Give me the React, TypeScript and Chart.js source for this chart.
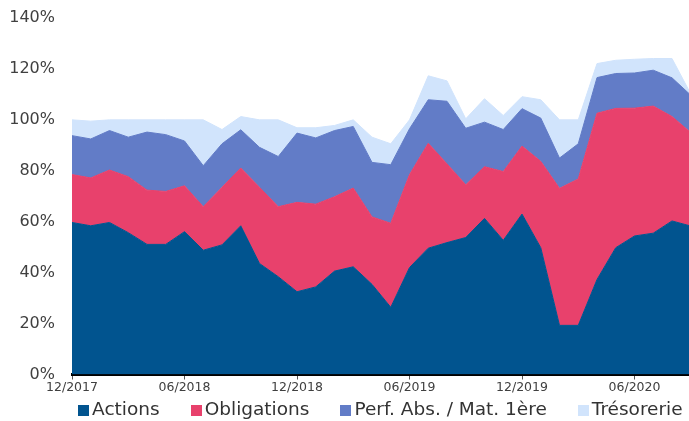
import React, { useEffect, useRef } from 'react';
import { Chart, registerables } from 'chart.js';

Chart.register(...registerables);

const months = [
  '12/2017', '01/2018', '02/2018', '03/2018', '04/2018', '05/2018', '06/2018', '07/2018', '08/2018',
  '09/2018', '10/2018', '11/2018', '12/2018', '01/2019', '02/2019', '03/2019', '04/2019', '05/2019',
  '06/2019', '07/2019', '08/2019', '09/2019', '10/2019', '11/2019', '12/2019', '01/2020', '02/2020',
  '03/2020', '04/2020', '05/2020', '06/2020', '07/2020', '08/2020', '09/2020',
];

const actions = [59.7, 58.4, 59.7, 55.7, 51.1, 51.1, 56.1, 48.8, 50.9, 58.4, 43.6, 38.4, 32.5, 34.4, 40.6, 42.3, 35.4, 26.4, 42.0, 49.6, 51.8, 53.8, 61.3, 52.7, 63.0, 49.8, 19.3, 19.3, 37.3, 49.8, 54.4, 55.5, 60.3, 58.3];
const obligations = [18.8, 18.8, 20.6, 22.0, 21.3, 20.8, 18.0, 17.1, 22.6, 22.7, 29.9, 27.5, 35.1, 32.5, 29.2, 30.9, 26.5, 33.0, 36.5, 41.2, 30.9, 20.7, 20.3, 27.0, 26.7, 33.9, 53.8, 57.5, 65.3, 54.7, 50.2, 49.9, 41.0, 36.7];
const perfAbs = [15.3, 15.3, 15.5, 15.5, 22.8, 22.3, 17.6, 16.1, 17.1, 15.0, 15.7, 19.7, 27.2, 26.0, 26.0, 24.2, 21.4, 23.0, 18.0, 17.1, 24.6, 22.2, 17.5, 16.5, 14.7, 17.0, 11.9, 13.8, 14.0, 13.7, 13.8, 14.1, 15.2, 14.7];
const tresorerie = [6.2, 7.0, 4.2, 6.8, 4.8, 5.8, 8.3, 18.0, 5.6, 5.2, 10.8, 14.4, 2.1, 4.0, 2.0, 2.6, 9.9, 8.2, 3.5, 9.4, 8.0, 3.7, 9.2, 5.5, 4.7, 7.2, 15.0, 9.4, 5.5, 5.2, 5.4, 4.6, 7.6, 0.5];

const seriesNames = ['Actions', 'Obligations', 'Perf. Abs. / Mat. 1ère', 'Trésorerie'];
const seriesColors = ['#01548F', '#E8416C', '#627CC7', '#D1E4FC'];
const seriesData = [actions, obligations, perfAbs, tresorerie];

const FONT = '"DejaVu Sans", sans-serif';

const bottomLegend = {
  id: 'bottomLegend',
  afterDraw(chart: any) {
    const { ctx, chartArea } = chart;
    const fontSize = 18.5;
    const box = 11;
    const boxGap = 3;
    const itemGap = 31;
    ctx.save();
    ctx.font = `${fontSize}px ${FONT}`;
    ctx.textBaseline = 'middle';
    ctx.textAlign = 'left';
    const items = chart.data.datasets.map((ds: any) => ({ text: String(ds.label), color: ds.backgroundColor }));
    const widths = items.map((it: any) => ctx.measureText(it.text).width);
    const total = widths.reduce((s: number, w: number) => s + box + boxGap + w, 0) + itemGap * (items.length - 1);
    const center = (chartArea.left - 2 + chartArea.right) / 2;
    let x = center - total / 2;
    const y = chartArea.bottom + 35.5;
    items.forEach((it: any, i: number) => {
      ctx.fillStyle = it.color;
      ctx.fillRect(Math.round(x), Math.round(y - box / 2), box, box);
      ctx.fillStyle = '#333333';
      ctx.fillText(it.text, x + box + boxGap, y);
      x += box + boxGap + widths[i] + itemGap;
    });
    ctx.restore();
  },
};

export default function App() {
  const canvasRef = useRef<HTMLCanvasElement | null>(null);

  useEffect(() => {
    if (!canvasRef.current) return;
    Chart.defaults.font.family = FONT;
    const tickColor = (c: any) => (c.index % 6 === 0 ? '#555555' : 'rgba(0,0,0,0)');
    const chart = new Chart(canvasRef.current, {
      type: 'line',
      data: {
        labels: months,
        datasets: seriesNames.map((name, k) => ({
          label: name,
          data: seriesData[k],
          backgroundColor: seriesColors[k],
          borderColor: seriesColors[k],
          borderWidth: 1,
          fill: k === 0 ? 'origin' : '-1',
          pointRadius: 0,
          tension: 0,
        })),
      },
      options: {
        animation: false,
        responsive: false,
        events: [],
        layout: { padding: { top: 18, left: 0, right: 1.25, bottom: 22 } },
        plugins: {
          legend: { display: false },
          tooltip: { enabled: false },
          title: { display: false },
        },
        scales: {
          x: {
            type: 'category',
            offset: false,
            z: 1,
            grid: {
              display: true,
              drawOnChartArea: false,
              drawTicks: true,
              tickLength: 5,
              lineWidth: 1,
              color: tickColor,
              tickColor: tickColor,
            },
            border: { display: true, color: '#000000', width: 3 },
            ticks: {
              autoSkip: false,
              maxRotation: 0,
              minRotation: 0,
              padding: 1,
              color: '#404040',
              font: { family: FONT, size: 12.5 },
              callback: (_v: any, i: number) => (i % 6 === 0 ? months[i] : ''),
            },
            afterFit: (s: any) => {
              s.height = 24.5;
            },
          },
          y: {
            stacked: true,
            min: 0,
            max: 140,
            grid: { display: false, drawTicks: false },
            border: { display: false },
            ticks: {
              stepSize: 20,
              padding: 17,
              color: '#404040',
              font: { family: FONT, size: 16 },
              callback: (v: any) => `${v}%`,
            },
            afterFit: (s: any) => {
              s.width = 72;
              s.paddingTop = 0;
              s.paddingBottom = 0;
            },
          },
        },
      } as any,
      plugins: [bottomLegend],
    });
    return () => chart.destroy();
  }, []);

  return (
    <div style={{ position: 'absolute', left: 0, top: 0, width: 689, height: 421, overflow: 'hidden', background: '#ffffff' }}>
      <canvas ref={canvasRef} width={692} height={421} style={{ display: 'block' }} />
    </div>
  );
}
